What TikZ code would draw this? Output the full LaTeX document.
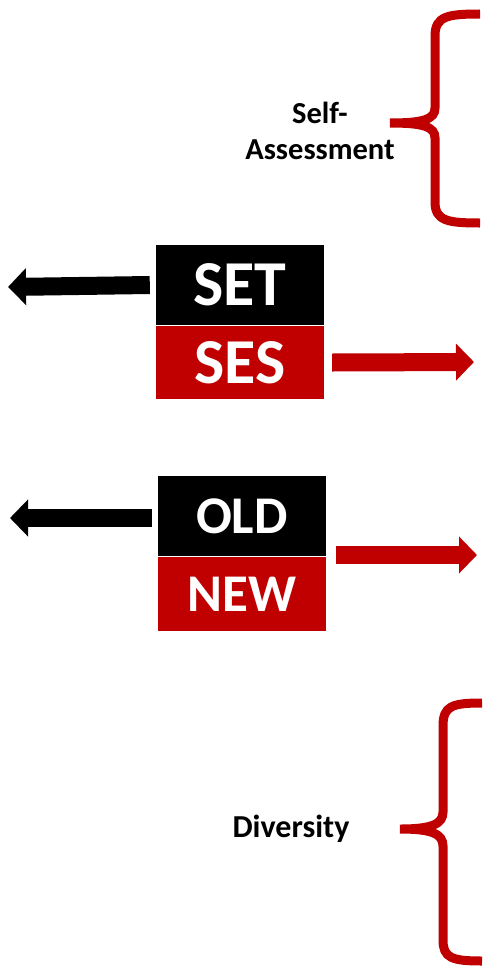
\documentclass[tikz,border=0pt]{standalone}
\usepackage{fontspec}
\setmainfont{Carlito}
\usetikzlibrary{arrows.meta,positioning}
\definecolor{deepred}{RGB}{192,0,0}
\definecolor{ink}{RGB}{0,0,0}
\tikzset{
  tag/.style={fill=#1,text=white,font=\bfseries,inner sep=0pt,
              minimum width=168pt},
  bigtag/.style={tag=#1,font=\fontsize{64}{64}\selectfont\bfseries},
  midtag/.style={tag=#1,font=\fontsize{53}{53}\selectfont\bfseries},
  fat/.style={draw=#1,line width=18pt,-{Triangle[length=18pt,width=36pt]}},
  brace/.style={draw=deepred,line width=9pt},
  lbl/.style={font=\fontsize{#1}{36}\selectfont\bfseries,text=ink,align=center},
}

\begin{document}
\begin{tikzpicture}[x=1pt,y=-1pt]
  \useasboundingbox (0,0) rectangle (488,966);
  % upper pair
  \node[bigtag=ink,minimum height=80pt] (set) at (240,285) {SET};
  \node[bigtag=deepred,minimum height=73pt] (ses) at (240,362.5) {SES};
  \coordinate (setend) at (8,287);
  \coordinate (sesend) at (474,362);
  \draw[fat=ink] ([xshift=-6pt]set.west) -- (setend);
  \draw[fat=deepred] ([xshift=8pt]ses.east) -- (sesend);
  % lower pair
  \node[midtag=ink,minimum height=80pt] (old) at (242,516) {OLD};
  \node[midtag=deepred,minimum height=74pt] (new) at (242,594) {NEW};
  \coordinate (oldend) at (10,518);
  \coordinate (newend) at (477,555);
  \draw[fat=ink] ([xshift=-6pt]old.west |- oldend) -- (oldend);
  \draw[fat=deepred] ([xshift=10pt]new.east |- newend) -- (newend);
  % braces
  \draw[brace] (480,14) .. controls (448,14) and (435,16) .. (435,36)
    -- (435,108) .. controls (435,119) and (424,123) .. (390,123)
    .. controls (424,123) and (435,127) .. (435,138)
    -- (435,202) .. controls (435,221) and (448,223) .. (480,223);
  \draw[brace] (482,703) .. controls (452,703) and (443,706) .. (443,726)
    -- (443,812) .. controls (443,824) and (432,829) .. (400,829)
    .. controls (432,829) and (443,834) .. (443,846)
    -- (443,940) .. controls (443,958) and (452,961) .. (482,961);
  \node[lbl=30.5] (self) at (320,131) {Self-\\Assessment};
  \node[lbl=32,anchor=base] (div) at (291,837) {Diversity};
\end{tikzpicture}
\end{document}
